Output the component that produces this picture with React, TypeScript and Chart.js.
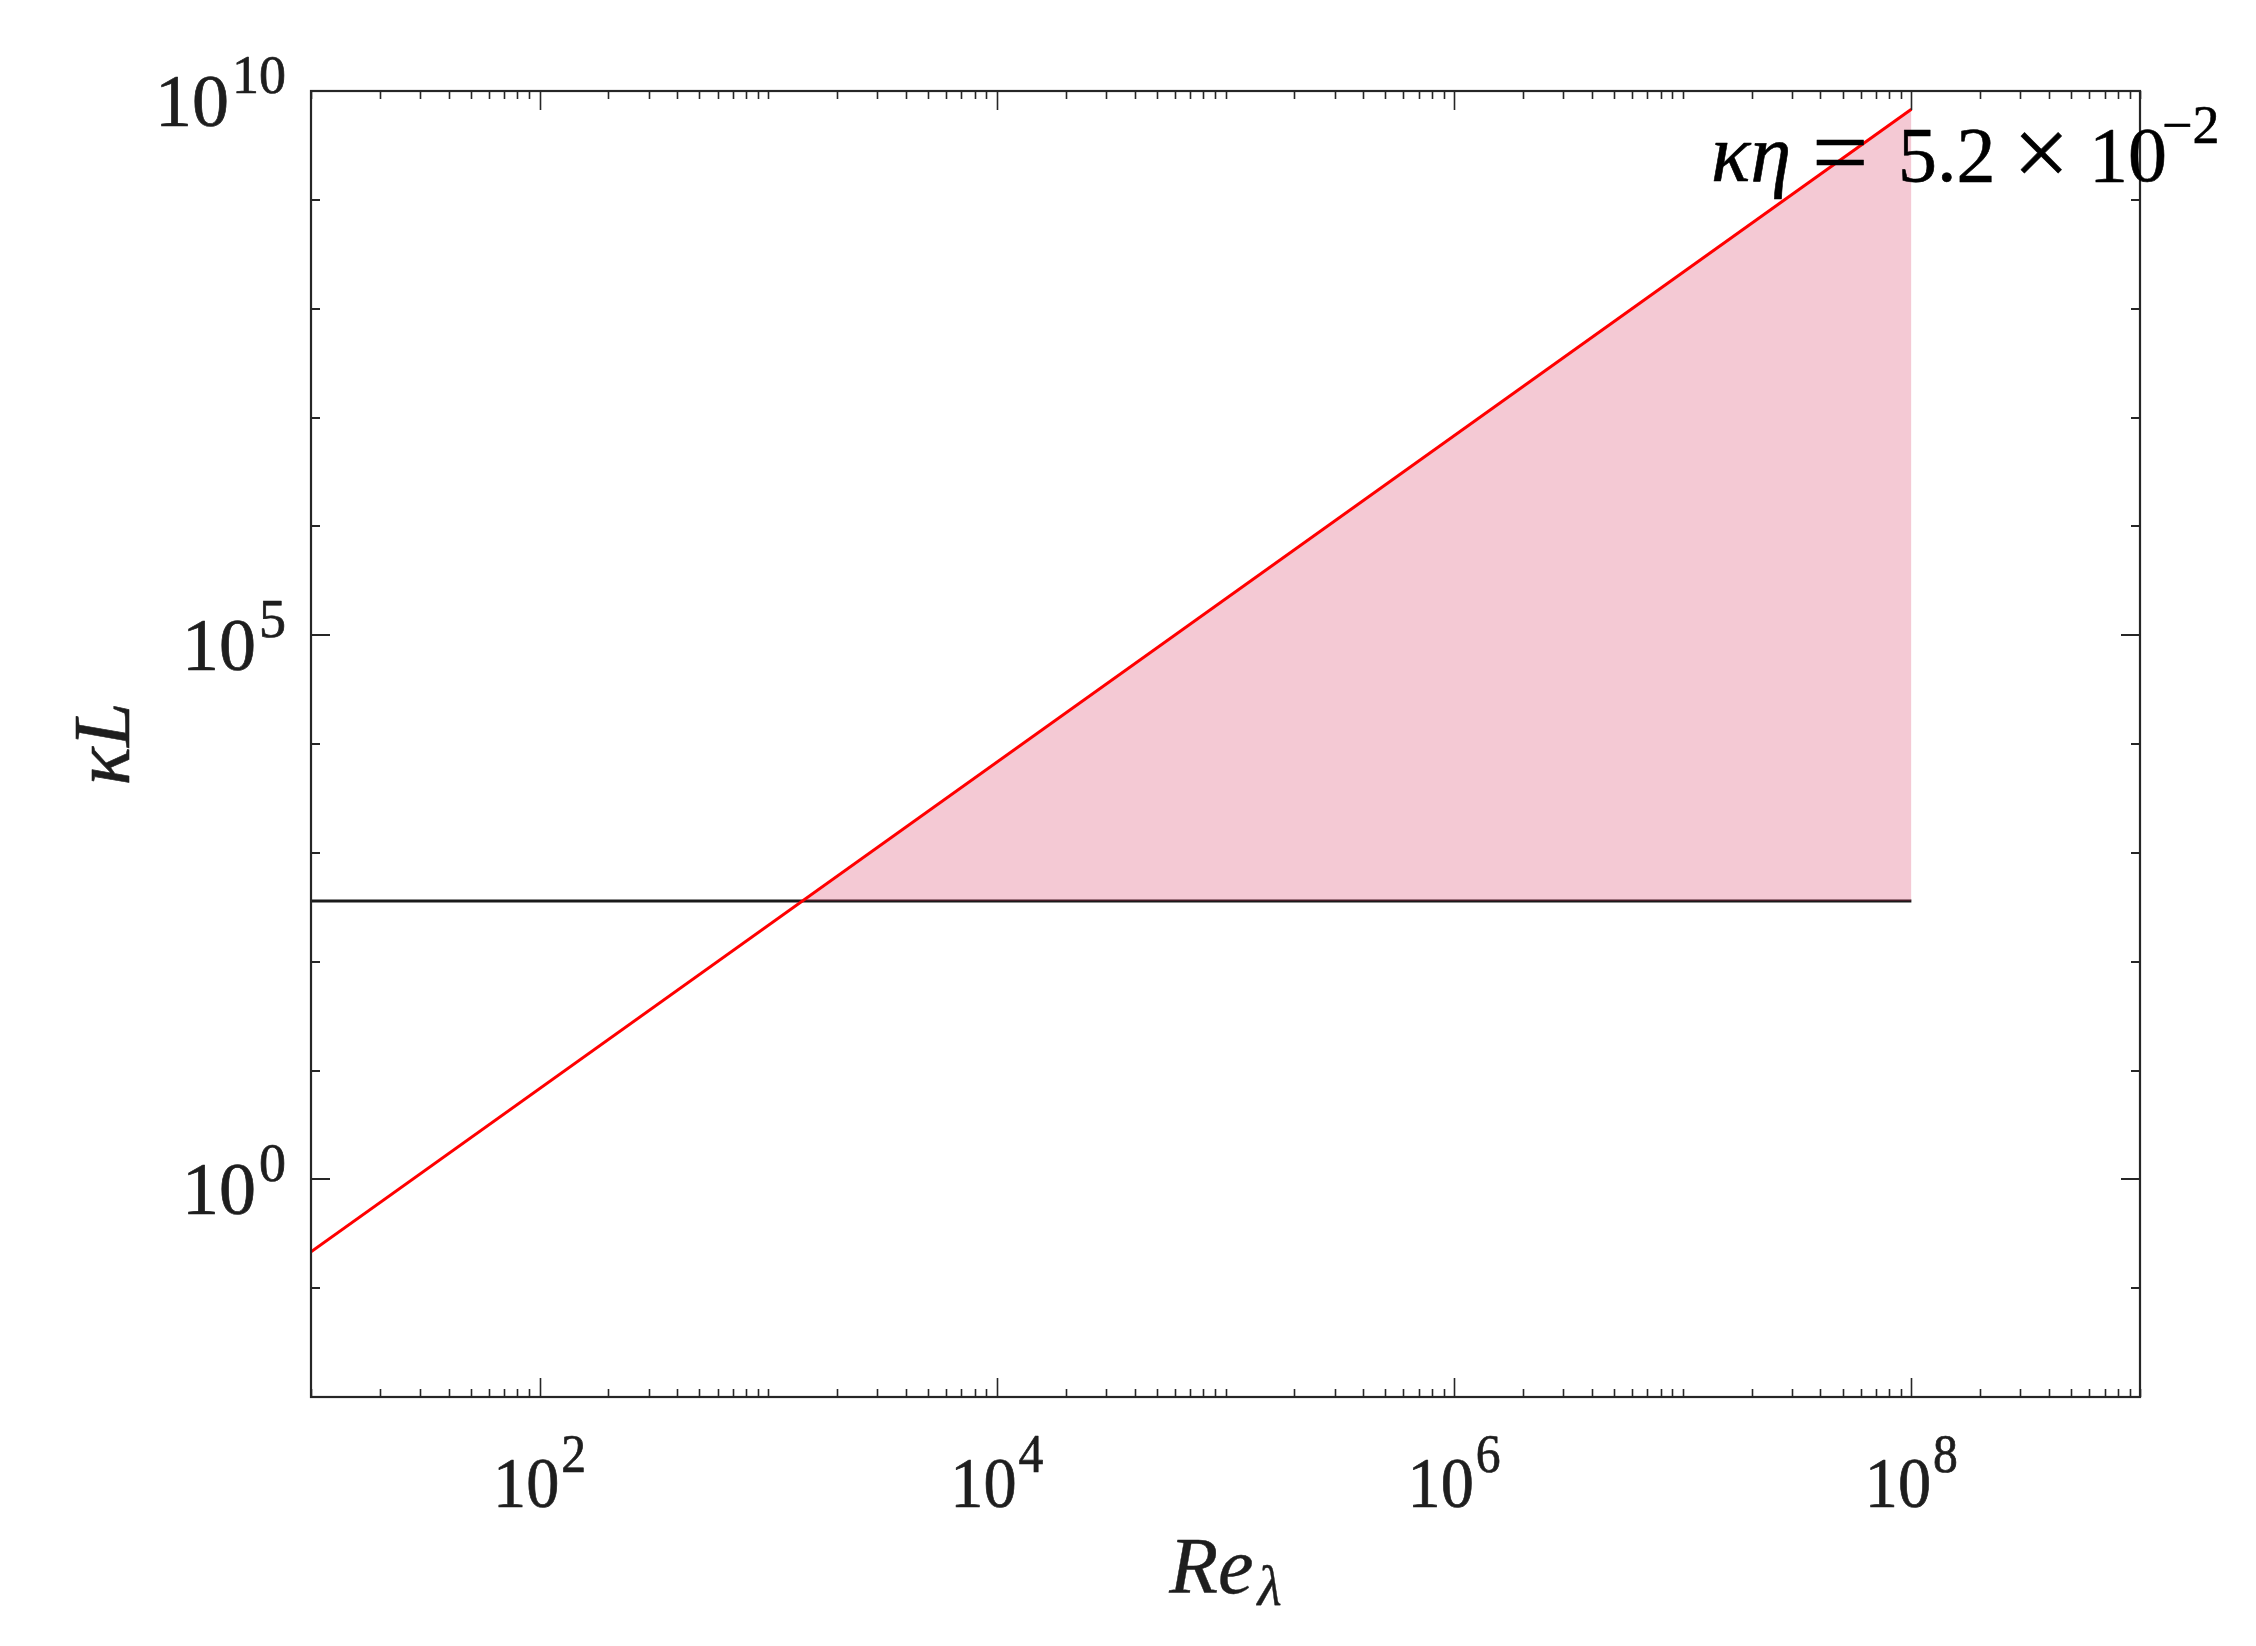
import React, { useEffect, useRef } from "react";
import { Chart, registerables } from "chart.js";

Chart.register(...registerables);

// ---- data ----
const reLine = [10, 1e8];
const kLRed = [0.216, 6.8e9];
const kLFloor = 360;
const reFloor = [10, 1e8];
const reFill = [1410, 1e8];
const kLFillTop = [360, 6.8e9];
const kLFillBottom = [360, 360];

// ---- axes ----
const X_MIN = 10;
const X_MAX = 1e9;
const Y_MIN = 1e-2;
const Y_MAX = 1e10;
const xMajorTicks = [1e2, 1e4, 1e6, 1e8];
const xMajorExp = ["2", "4", "6", "8"];
const yMajorTicks = [1, 1e5, 1e10];
const yMajorExp = ["0", "5", "10"];
const xDecades = [1, 2, 3, 4, 5, 6, 7, 8];
const minorMult = [1, 2, 3, 4, 5, 6, 7, 8, 9];
const yDecades = [-2, -1, 0, 1, 2, 3, 4, 5, 6, 7, 8, 9, 10];

const xTitle = "Re";
const xTitleSub = "λ";
const yTitle = "κL";
const annoItalic = "κη";
const annoParts = ["=", "5.2", "×", "10"];
const annoExp = "−2";
const ANNO_X = 1.33e7;
const ANNO_Y = 1.5e9;

const SERIF = '"Liberation Serif", "Times New Roman", serif';
const AX = "#262626";
const TXT = "#1e1e1e";

const pts = (xs: number[], ys: number[]) => xs.map((x, i) => ({ x, y: ys[i] }));

function txt(ctx: CanvasRenderingContext2D, s: string, x: number, y: number, w = 0.7) {
  ctx.fillText(s, x, y);
  ctx.lineWidth = w;
  ctx.strokeText(s, x, y);
}

const decorPlugin = {
  id: "decor",
  afterDraw(chart: any) {
    const { ctx, chartArea } = chart;
    const { left, right, top, bottom } = chartArea;
    const xs = chart.scales.x;
    const ys = chart.scales.y;
    ctx.save();
    ctx.strokeStyle = AX;
    ctx.lineCap = "butt";

    // x ticks
    const isMajorX = (v: number) => xMajorTicks.some((m) => Math.abs(Math.log10(m) - Math.log10(v)) < 1e-9);
    const xMinor: number[] = [];
    xDecades.forEach((d) => minorMult.forEach((m) => xMinor.push(m * Math.pow(10, d))));
    xMinor.push(X_MAX);
    ctx.lineWidth = 1.6;
    xMinor.forEach((v) => {
      if (v < X_MIN || v > X_MAX) return;
      const px = Math.round(xs.getPixelForValue(v)) + 0.5;
      const len = isMajorX(v) ? 19 : 8;
      ctx.beginPath();
      ctx.moveTo(px, bottom);
      ctx.lineTo(px, bottom - len);
      ctx.moveTo(px, top);
      ctx.lineTo(px, top + len);
      ctx.stroke();
    });

    // y ticks
    ctx.lineWidth = 2;
    yDecades.forEach((d) => {
      const v = Math.pow(10, d);
      const py = Math.round(ys.getPixelForValue(v));
      const major = yMajorTicks.some((m) => Math.abs(Math.log10(m) - d) < 1e-9);
      const len = major ? 19 : 9;
      ctx.beginPath();
      ctx.moveTo(left, py);
      ctx.lineTo(left + len, py);
      ctx.moveTo(right, py);
      ctx.lineTo(right - len, py);
      ctx.stroke();
    });

    // box
    ctx.lineWidth = 2.2;
    ctx.strokeRect(left, top, right - left, bottom - top);

    ctx.fillStyle = TXT;
    ctx.strokeStyle = TXT;
    ctx.lineJoin = "round";
    ctx.textBaseline = "alphabetic";

    // x tick labels
    xMajorTicks.forEach((v, i) => {
      const px = xs.getPixelForValue(v);
      ctx.font = `72px ${SERIF}`;
      const wb = ctx.measureText("10").width * 0.92;
      ctx.font = `54px ${SERIF}`;
      const we = ctx.measureText(xMajorExp[i]).width * 0.92;
      const total = wb + 2 + we;
      const x0 = px - total / 2;
      const base = bottom + 110;
      ctx.save();
      ctx.translate(x0, base);
      ctx.scale(0.92, 1);
      ctx.font = `72px ${SERIF}`;
      ctx.textAlign = "left";
      txt(ctx, "10", 0, 0);
      ctx.font = `54px ${SERIF}`;
      txt(ctx, xMajorExp[i], (wb + 2) / 0.92, -35);
      ctx.restore();
    });

    // y tick labels
    yMajorTicks.forEach((v, i) => {
      const py = ys.getPixelForValue(v);
      ctx.font = `54px ${SERIF}`;
      const we = ctx.measureText(yMajorExp[i]).width;
      ctx.font = `74px ${SERIF}`;
      const wb = ctx.measureText("10").width;
      const xr = left - 25;
      const xe = xr - we;
      const xb = xe - 3 - wb;
      ctx.textAlign = "left";
      ctx.font = `74px ${SERIF}`;
      txt(ctx, "10", xb, py + 35);
      ctx.font = `54px ${SERIF}`;
      txt(ctx, yMajorExp[i], xe, py + 2);
    });

    // x title
    ctx.font = `italic 80px ${SERIF}`;
    const wRe = ctx.measureText(xTitle).width;
    ctx.font = `italic 56px ${SERIF}`;
    const wL = ctx.measureText(xTitleSub).width;
    const cx = (left + right) / 2;
    const xt0 = cx - (wRe + 4 + wL) / 2;
    ctx.textAlign = "left";
    ctx.font = `italic 80px ${SERIF}`;
    txt(ctx, xTitle, xt0, bottom + 196, 0.4);
    ctx.font = `italic 56px ${SERIF}`;
    txt(ctx, xTitleSub, xt0 + wRe + 4, bottom + 208, 0.4);

    // y title
    ctx.save();
    ctx.translate(left - 210, (top + bottom) / 2);
    ctx.rotate(-Math.PI / 2);
    ctx.font = `italic 80px ${SERIF}`;
    ctx.textAlign = "center";
    txt(ctx, yTitle, 0, 28, 0.6);
    ctx.restore();

    // annotation
    const ax = xs.getPixelForValue(ANNO_X);
    const ay = ys.getPixelForValue(ANNO_Y);
    const offs = [105, 187, 306, 378];
    const sizes = [100, 78, 100, 78];
    ctx.fillStyle = "#000";
    ctx.strokeStyle = "#000";
    ctx.textAlign = "left";
    ctx.font = `italic 82px ${SERIF}`;
    txt(ctx, annoItalic, ax, ay, 0.6);
    annoParts.forEach((p, i) => {
      ctx.font = `${sizes[i]}px ${SERIF}`;
      const dy = sizes[i] > 80 ? 5 : 0;
      txt(ctx, p, ax + offs[i] - (sizes[i] > 80 ? 4 : 0), ay + dy, 0.6);
    });
    ctx.font = `54px ${SERIF}`;
    txt(ctx, annoExp, ax + 451, ay - 38, 0.6);

    ctx.restore();
  },
};

export default function App() {
  const ref = useRef<HTMLCanvasElement | null>(null);
  useEffect(() => {
    if (!ref.current) return;
    const chart = new Chart(ref.current, {
      type: "scatter",
      data: {
        datasets: [
          {
            data: pts(reLine, kLRed),
            showLine: true,
            borderColor: "#ff0000",
            borderWidth: 3,
            pointRadius: 0,
            fill: false,
          },
          {
            data: pts(reFill, kLFillTop),
            showLine: true,
            borderWidth: 0,
            borderColor: "rgba(0,0,0,0)",
            backgroundColor: "rgba(211,39,83,0.25)",
            pointRadius: 0,
            fill: "+1",
          },
          {
            data: pts(reFill, kLFillBottom),
            showLine: true,
            borderWidth: 0,
            borderColor: "rgba(0,0,0,0)",
            pointRadius: 0,
            fill: false,
          },
          {
            data: pts(reFloor, reFloor.map(() => kLFloor)),
            showLine: true,
            borderColor: "#1a1a1a",
            borderWidth: 3,
            pointRadius: 0,
            fill: false,
          },
        ],
      },
      options: {
        responsive: false,
        animation: false,
        devicePixelRatio: 1,
        layout: { padding: { left: 311, right: 116, top: 91, bottom: 249 } },
        plugins: { legend: { display: false }, tooltip: { enabled: false } },
        scales: {
          x: { type: "logarithmic", min: X_MIN, max: X_MAX, display: false },
          y: { type: "logarithmic", min: Y_MIN, max: Y_MAX, display: false },
        },
      },
      plugins: [decorPlugin],
    } as any);
    return () => chart.destroy();
  }, []);
  return (
    <div style={{ position: "fixed", left: 0, top: 0, width: 2256, height: 1646, background: "#fff" }}>
      <canvas ref={ref} width={2256} height={1646} style={{ display: "block" }} />
    </div>
  );
}
